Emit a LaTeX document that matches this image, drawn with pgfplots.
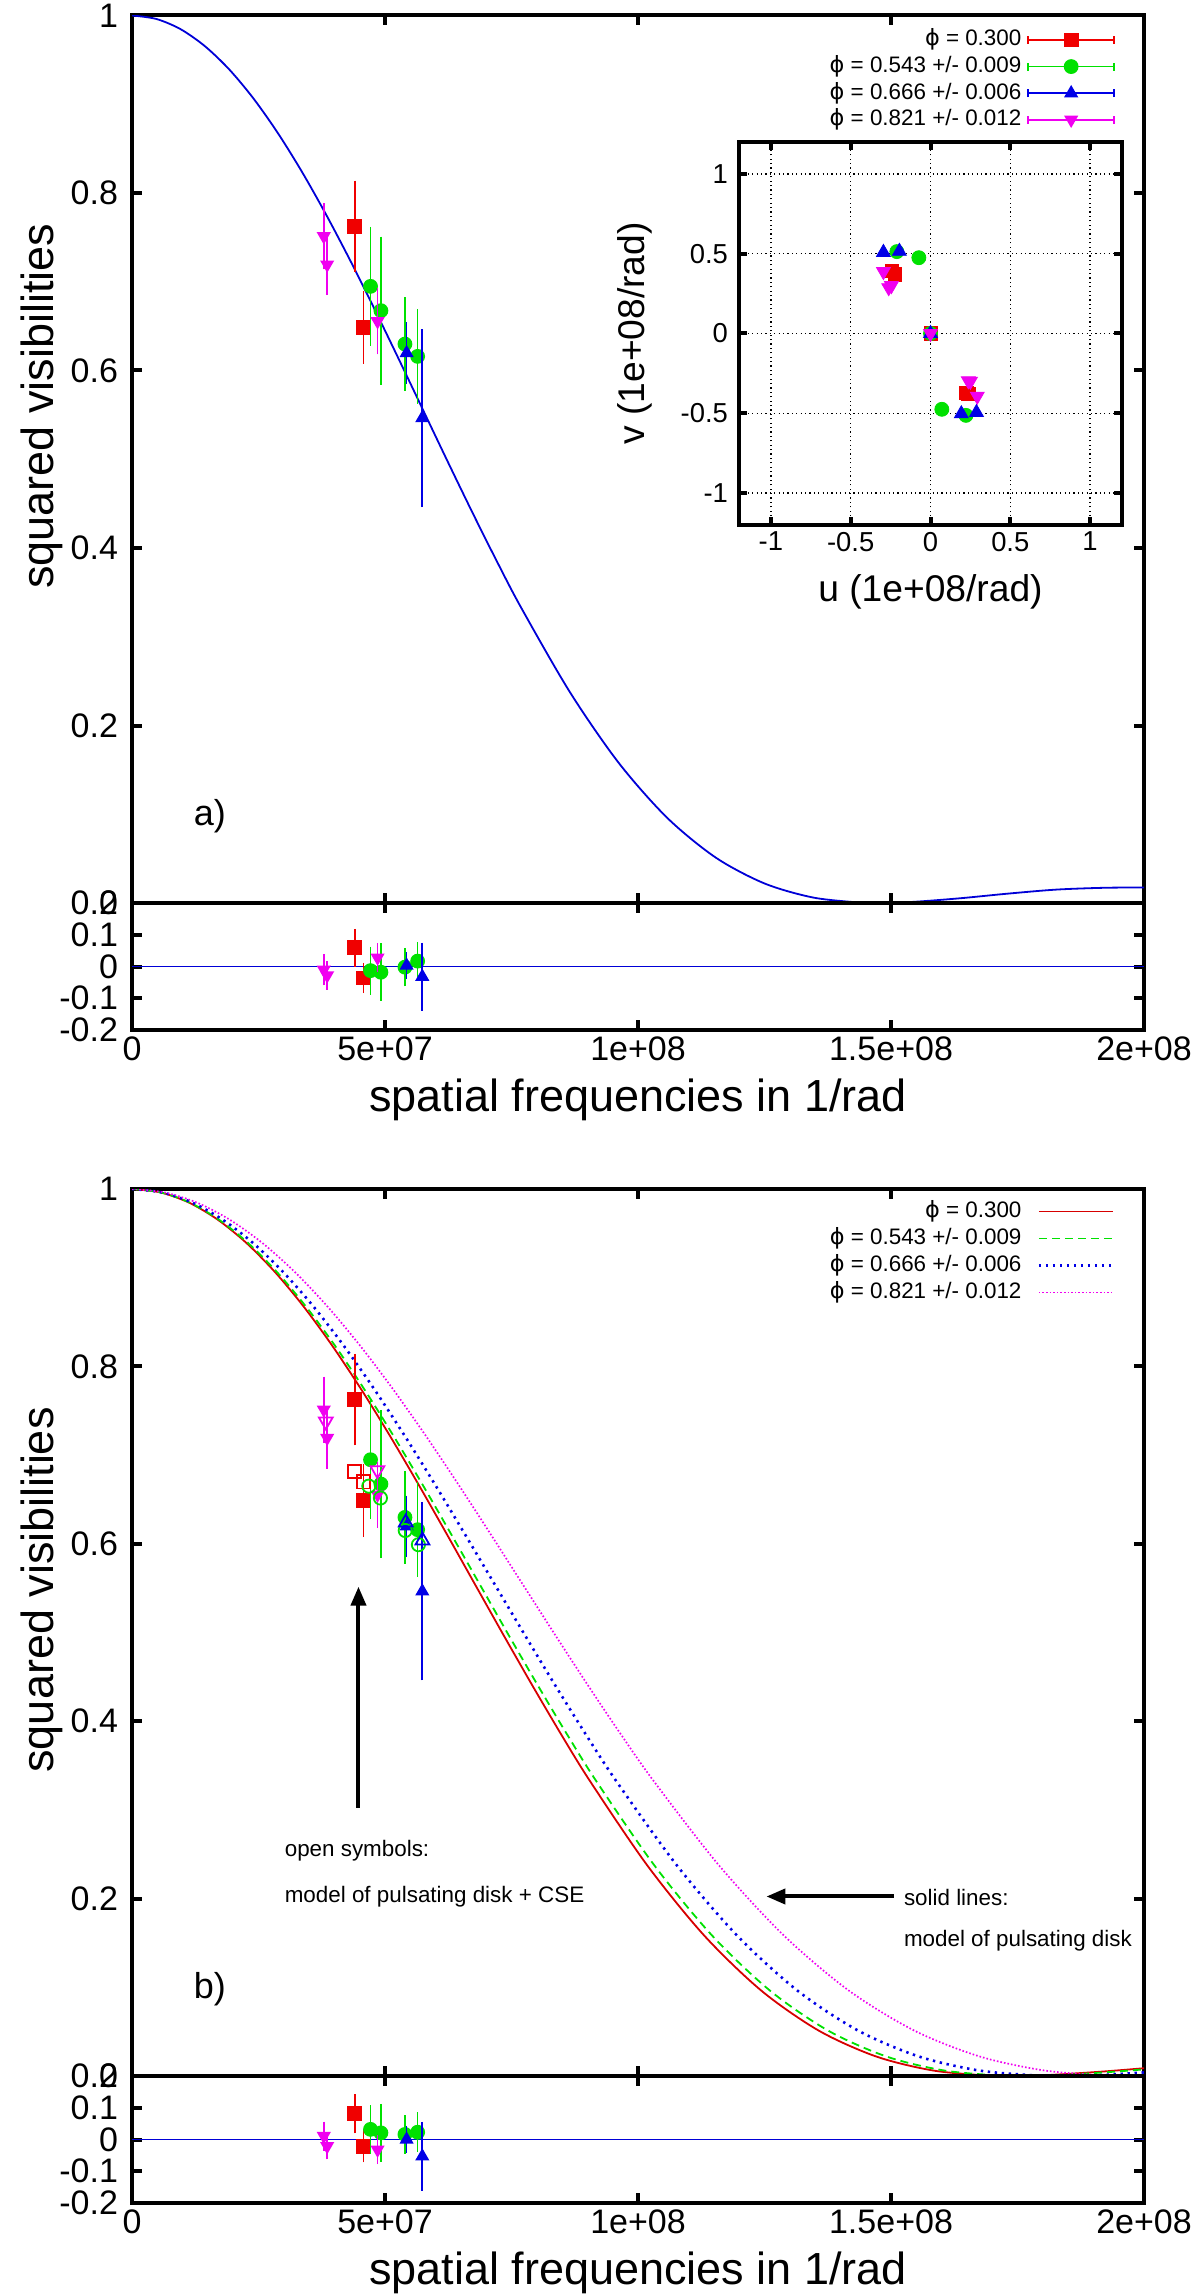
\documentclass[border=0pt]{standalone}
\usepackage{fontspec}
\setmainfont{Liberation Sans}
\newfontfamily\dejavu{DejaVu Sans}
\usepackage{pgfplots}
\pgfplotsset{compat=1.18}
\usepackage{pgfplotstable}
\usetikzlibrary{arrows.meta}

\definecolor{gpred}{RGB}{240,0,0}
\definecolor{gpgreen}{RGB}{0,225,0}
\definecolor{gpblue}{RGB}{0,0,230}
\definecolor{gpmag}{RGB}{240,0,240}
\definecolor{curveA}{RGB}{0,0,215}
\definecolor{lred}{RGB}{215,0,0}

% measured squared visibilities (x in 1/rad, y, error)
\pgfplotstableread{
x y e
0.4404e8 0.7625 0.047
0.4576e8 0.6486 0.0366
}\rA
\pgfplotstableread{
x y e
0.4714e8 0.6948 0.0625
0.4919e8 0.6674 0.079
0.5394e8 0.6298 0.048
0.5645e8 0.6159 0.049
}\gA
\pgfplotstableread{
x y e
0.5427e8 0.6197 0.030
0.5737e8 0.5464 0.0958
}\bA
\pgfplotstableread{
x y e
0.3790e8 0.7512 0.0327
0.3857e8 0.7193 0.030
0.4853e8 0.6554 0.0327
}\mA
% residuals panel a
\pgfplotstableread{
x y e
0.4404e8 0.059 0.047
0.4576e8 -0.036 0.035
}\rRa
\pgfplotstableread{
x y e
0.4714e8 -0.013 0.063
0.4919e8 -0.018 0.078
0.5394e8 -0.002 0.048
0.5645e8 0.017 0.048
}\gRa
\pgfplotstableread{
x y e
0.5427e8 0.003 0.030
0.5737e8 -0.032 0.095
}\bRa
\pgfplotstableread{
x y e
0.3790e8 -0.010 0.037
0.3857e8 -0.028 0.032
0.4853e8 0.028 0.033
}\mRa
% residuals panel b
\pgfplotstableread{
x y e
0.4404e8 0.081 0.049
0.4576e8 -0.021 0.038
}\rRb
\pgfplotstableread{
x y e
0.4714e8 0.032 0.064
0.4919e8 0.021 0.079
0.5394e8 0.016 0.048
0.5645e8 0.023 0.050
}\gRb
\pgfplotstableread{
x y e
0.5427e8 0.000 0.030
0.5737e8 -0.053 0.096
}\bRb
\pgfplotstableread{
x y e
0.3790e8 0.011 0.033
0.3857e8 -0.021 0.029
0.4853e8 -0.032 0.033
}\mRb
% open symbols (disk + CSE model)
\pgfplotstableread{
x y
0.440e8 0.6817
0.458e8 0.6697
}\rO
\pgfplotstableread{
x y
0.468e8 0.665
0.491e8 0.6516
0.540e8 0.615
0.566e8 0.599
}\gO
\pgfplotstableread{
x y
0.541e8 0.624
0.574e8 0.6037
}\bO
\pgfplotstableread{
x y
0.383e8 0.738
0.485e8 0.683
}\mO
% model curves
\pgfplotstableread{
x y
0 1
0.04808e8 0.99610
0.09615e8 0.98454
0.14423e8 0.96535
0.19231e8 0.93912
0.24038e8 0.90623
0.28846e8 0.86734
0.33654e8 0.82320
0.38462e8 0.77458
0.43269e8 0.72237
0.48077e8 0.66749
0.52885e8 0.61086
0.57692e8 0.55342
0.62500e8 0.49605
0.67308e8 0.43961
0.72115e8 0.38490
0.76923e8 0.33261
0.86538e8 0.23764
0.96154e8 0.15814
1.05769e8 0.09598
1.15385e8 0.05109
1.25e8 0.02203
1.34615e8 0.00616
1.44231e8 0.00031
1.47385e8 0
1.53846e8 0.00109
1.63462e8 0.00524
1.73077e8 0.01055
1.82692e8 0.01511
1.92308e8 0.01717
2.0e8 0.01743
}\curA
\pgfplotstableread{
x y
0 1
0.05656e8 0.99610
0.1131e8 0.98454
0.16968e8 0.96535
0.2262e8 0.93912
0.28281e8 0.90623
0.3394e8 0.86734
0.39593e8 0.82320
0.4525e8 0.77458
0.50905e8 0.72237
0.5656e8 0.66749
0.62217e8 0.61086
0.6787e8 0.55342
0.73529e8 0.49605
0.7919e8 0.43961
0.84842e8 0.38490
0.9050e8 0.33261
1.0181e8 0.23764
1.1312e8 0.15814
1.2443e8 0.09598
1.3575e8 0.05109
1.4706e8 0.02203
1.5837e8 0.00616
1.6968e8 0.00031
1.7339e8 0
1.8100e8 0.00109
1.9231e8 0.00524
2.0362e8 0.01055
}\curR
\pgfplotstableread{
x y
0 1
0.05734e8 0.99610
0.1147e8 0.98454
0.17202e8 0.96535
0.2294e8 0.93912
0.28670e8 0.90623
0.3440e8 0.86734
0.40138e8 0.82320
0.4587e8 0.77458
0.51606e8 0.72237
0.5734e8 0.66749
0.63073e8 0.61086
0.6881e8 0.55342
0.74541e8 0.49605
0.8028e8 0.43961
0.86009e8 0.38490
0.9174e8 0.33261
1.0321e8 0.23764
1.1468e8 0.15814
1.2615e8 0.09598
1.3761e8 0.05109
1.4908e8 0.02203
1.6055e8 0.00616
1.7202e8 0.00031
1.7578e8 0
1.8349e8 0.00109
1.9495e8 0.00524
2.0642e8 0.01055
}\curG
\pgfplotstableread{
x y
0 1
0.05981e8 0.99610
0.1196e8 0.98454
0.17943e8 0.96535
0.2392e8 0.93912
0.29904e8 0.90623
0.3589e8 0.86734
0.41866e8 0.82320
0.4785e8 0.77458
0.53828e8 0.72237
0.5981e8 0.66749
0.65789e8 0.61086
0.7177e8 0.55342
0.77751e8 0.49605
0.8373e8 0.43961
0.89713e8 0.38490
0.9569e8 0.33261
1.0766e8 0.23764
1.1962e8 0.15814
1.3158e8 0.09598
1.4354e8 0.05109
1.5550e8 0.02203
1.6746e8 0.00616
1.7943e8 0.00031
1.8335e8 0
1.9139e8 0.00109
2.0335e8 0.00524
}\curB
\pgfplotstableread{
x y
0 1
0.06443e8 0.99610
0.1289e8 0.98454
0.19330e8 0.96535
0.2577e8 0.93912
0.32216e8 0.90623
0.3866e8 0.86734
0.45103e8 0.82320
0.5155e8 0.77458
0.57990e8 0.72237
0.6443e8 0.66749
0.70876e8 0.61086
0.7732e8 0.55342
0.83763e8 0.49605
0.9021e8 0.43961
0.96649e8 0.38490
1.0309e8 0.33261
1.1598e8 0.23764
1.2887e8 0.15814
1.4175e8 0.09598
1.5464e8 0.05109
1.6753e8 0.02203
1.8041e8 0.00616
1.9330e8 0.00031
1.9753e8 0
2.0619e8 0.00109
}\curM
% uv coverage (1e+08/rad)
\pgfplotstableread{
u v
-0.24 0.39
-0.225 0.37
0.237 -0.381
0.225 -0.37
0 0
}\rUV
\pgfplotstableread{
u v
-0.211 0.513
-0.073 0.475
0.071 -0.475
0.222 -0.513
0 0
}\gUV
\pgfplotstableread{
u v
-0.295 0.508
-0.195 0.515
0.193 -0.503
0.288 -0.495
0 0
}\bUV
\pgfplotstableread{
u v
-0.295 0.388
-0.262 0.287
-0.245 0.30
0.237 -0.297
0.293 -0.393
0.25 -0.30
0 0
}\mUV

\tikzset{bigfont/.style={font=\fontsize{22.5}{26}\selectfont}}
\pgfplotsset{
  base/.style={scale only axis, width=506pt, xmin=0, xmax=2e8,
    scaled x ticks=false, scaled y ticks=false,
    axis line style={line width=2pt}, every tick/.style={line width=2pt,black},
    major tick length=5pt, tick align=inside,
    xtick={0,5e7,1e8,1.5e8,2e8},
    tick label style={font=\fontsize{17}{20}\selectfont},
    yticklabel style={xshift=-3.5pt},
    clip mode=individual},
  dat/.style={only marks, mark size=3.3pt, line width=0.8pt,
    error bars/y dir=both, error bars/y explicit,
    error bars/error bar style={line width=0.8pt},
    error bars/error mark options={line width=0.8pt, mark size=2pt}},
  opn/.style={only marks, mark size=3.3pt, line width=0.9pt},
}
\newcommand{\phisym}{{\dejavu ϕ}}

\begin{document}
\begin{tikzpicture}
\useasboundingbox (0,0) rectangle (600pt,-1147pt);

% ---------- panel a main ----------
\begin{axis}[base, at={(66pt,-7.75pt)}, anchor=north west, height=443.75pt,
  ymin=0, ymax=1, ytick={0,0.2,0.4,0.6,0.8,1}, yticklabels={0,0.2,0.4,0.6,0.8,1},
  xticklabels={},
  ylabel={squared visibilities},
  ylabel style={bigfont, at={(axis description cs:-0.089,0.56)}, anchor=center},
  legend style={draw=none, fill=none, at={(0.9713,0.9848)}, anchor=north east,
    inner sep=0pt, outer sep=0pt, font=\fontsize{11.2}{13}\selectfont,
    row sep=2.3pt, column sep=3pt,
    nodes={inner sep=0pt, text height=8.5pt, text depth=2.5pt}},
  legend cell align=right, legend plot pos=right,
  legend image code/.code={
    \draw[#1, line width=0.8pt, solid] (0pt,0pt) -- (43pt,0pt) (0pt,-2pt) -- (0pt,2pt) (43pt,-2pt) -- (43pt,2pt);
    \draw[#1] plot coordinates {(21.5pt,0pt)};
  }]
\addplot[curveA, line width=0.9pt, smooth, forget plot] table[x=x,y=y] {\curA};
\addplot[gpred, mark=square*, dat] table[x=x,y=y,y error=e] {\rA};
\addlegendentry{\phisym\ = 0.300}
\addplot[gpgreen, mark=*, dat] table[x=x,y=y,y error=e] {\gA};
\addlegendentry{\phisym\ = 0.543 +/- 0.009}
\addplot[gpblue, mark=triangle*, mark size=4pt, dat] table[x=x,y=y,y error=e] {\bA};
\addlegendentry{\phisym\ = 0.666 +/- 0.006}
\addplot[gpmag, mark=triangle*, mark size=4pt, mark options={rotate=180}, dat] table[x=x,y=y,y error=e] {\mA};
\addlegendentry{\phisym\ = 0.821 +/- 0.012}
\node[font=\fontsize{18}{20}\selectfont] at (rel axis cs:0.077,0.098) {a)};
\end{axis}

% ---------- panel a residuals ----------
\begin{axis}[base, at={(66pt,-451.5pt)}, anchor=north west, height=63.5pt,
  ymin=-0.2, ymax=0.2, ytick={-0.2,-0.1,0,0.1,0.2}, yticklabels={-0.2,-0.1,0,0.1,0.2},
  xticklabels={0,5e+07,1e+08,1.5e+08,2e+08},
  xlabel={spatial frequencies in 1/rad},
  xlabel style={bigfont, at={(axis description cs:0.5,0)}, anchor=base, yshift=-40.5pt}]
\addplot[curveA, line width=0.9pt] coordinates {(0,0) (2e8,0)};
\addplot[gpred, mark=square*, dat] table[x=x,y=y,y error=e] {\rRa};
\addplot[gpgreen, mark=*, dat] table[x=x,y=y,y error=e] {\gRa};
\addplot[gpblue, mark=triangle*, mark size=4pt, dat] table[x=x,y=y,y error=e] {\bRa};
\addplot[gpmag, mark=triangle*, mark size=4pt, mark options={rotate=180}, dat] table[x=x,y=y,y error=e] {\mRa};
\end{axis}

% ---------- inset uv plane ----------
\begin{axis}[at={(369.5pt,-71pt)}, anchor=north west, scale only axis,
  width=191.5pt, height=191.5pt,
  xmin=-1.2, xmax=1.2, ymin=-1.2, ymax=1.2,
  xtick={-1,-0.5,0,0.5,1}, xticklabels={-1,-0.5,0,0.5,1},
  ytick={-1,-0.5,0,0.5,1}, yticklabels={-1,-0.5,0,0.5,1},
  grid=major, major grid style={black, line width=0.6pt, dash pattern=on 0.6pt off 1.6pt},
  axis line style={line width=2pt}, every tick/.style={line width=2pt,black},
  major tick length=4pt, tick align=inside,
  tick label style={font=\fontsize{13.7}{16}\selectfont},
  yticklabel style={xshift=-2pt},
  axis background/.style={fill=white},
  xlabel={u (1e+08/rad)}, ylabel={v (1e+08/rad)},
  xlabel style={font=\fontsize{18.6}{22}\selectfont, at={(axis description cs:0.5,-0.175)}, anchor=center},
  ylabel style={font=\fontsize{18.6}{22}\selectfont, at={(axis description cs:-0.2715,0.5)}, anchor=center}]
\addplot[gpred, mark=square*, only marks, mark size=3.3pt] table[x=u,y=v] {\rUV};
\addplot[gpgreen, mark=*, only marks, mark size=3.5pt] table[x=u,y=v] {\gUV};
\addplot[gpblue, mark=triangle*, only marks, mark size=4pt] table[x=u,y=v] {\bUV};
\addplot[gpmag, mark=triangle*, only marks, mark size=4pt, mark options={rotate=180}] table[x=u,y=v] {\mUV};
\end{axis}

% ---------- panel b main ----------
\begin{axis}[base, at={(66pt,-594.5pt)}, anchor=north west, height=443.5pt,
  ymin=0, ymax=1, ytick={0,0.2,0.4,0.6,0.8,1}, yticklabels={0,0.2,0.4,0.6,0.8,1},
  xticklabels={},
  ylabel={squared visibilities},
  ylabel style={bigfont, at={(axis description cs:-0.089,0.548)}, anchor=center},
  legend style={draw=none, fill=none, at={(0.9704,0.987)}, anchor=north east,
    inner sep=0pt, outer sep=0pt, font=\fontsize{11.2}{13}\selectfont,
    row sep=2.5pt, column sep=8pt,
    nodes={inner sep=0pt, text height=8.5pt, text depth=2.5pt}},
  legend cell align=right, legend plot pos=right,
  legend image code/.code={\draw[#1] (0pt,0pt) -- (37pt,0pt);}]
\addplot[lred, line width=0.9pt, smooth] table[x=x,y=y] {\curR};
\addlegendentry{\phisym\ = 0.300}
\addplot[gpgreen, line width=0.9pt, smooth, dash pattern=on 4pt off 2.5pt] table[x=x,y=y] {\curG};
\addlegendentry{\phisym\ = 0.543 +/- 0.009}
\addplot[gpblue, line width=1.3pt, smooth, dash pattern=on 1.2pt off 2.3pt] table[x=x,y=y] {\curB};
\addlegendentry{\phisym\ = 0.666 +/- 0.006}
\addplot[gpmag, line width=0.85pt, smooth, dash pattern=on 0.8pt off 1pt] table[x=x,y=y] {\curM};
\addlegendentry{\phisym\ = 0.821 +/- 0.012}
\addplot[forget plot, gpred, mark=square*, dat] table[x=x,y=y,y error=e] {\rA};
\addplot[forget plot, gpgreen, mark=*, dat] table[x=x,y=y,y error=e] {\gA};
\addplot[forget plot, gpblue, mark=triangle*, mark size=4pt, dat] table[x=x,y=y,y error=e] {\bA};
\addplot[forget plot, gpmag, mark=triangle*, mark size=4pt, mark options={rotate=180}, dat] table[x=x,y=y,y error=e] {\mA};
\addplot[forget plot, gpred, mark=square, opn] table[x=x,y=y] {\rO};
\addplot[forget plot, gpgreen, mark=o, opn] table[x=x,y=y] {\gO};
\addplot[forget plot, gpblue, mark=triangle, opn, mark size=4pt] table[x=x,y=y] {\bO};
\addplot[forget plot, gpmag, mark=triangle, opn, mark size=4pt, mark options={rotate=180}] table[x=x,y=y] {\mO};
\draw[-{Triangle[length=9.5pt,width=7.5pt]}, line width=2pt] (axis cs:0.4476e8,0.3026) -- (axis cs:0.4476e8,0.5517);
\draw[-{Triangle[length=9.5pt,width=7.5pt]}, line width=2pt] (axis cs:1.5053e8,0.2024) -- (axis cs:1.2538e8,0.2024);
\node[anchor=west, font=\fontsize{11.2}{13}\selectfont, inner sep=0pt] at (axis cs:0.3012e8,0.2537) {open symbols:};
\node[anchor=west, font=\fontsize{11.2}{13}\selectfont, inner sep=0pt] at (axis cs:0.3012e8,0.2018) {model of pulsating disk + CSE};
\node[anchor=west, font=\fontsize{11.2}{13}\selectfont, inner sep=0pt] at (axis cs:1.5249e8,0.2018) {solid lines:};
\node[anchor=west, font=\fontsize{11.2}{13}\selectfont, inner sep=0pt] at (axis cs:1.5249e8,0.1525) {model of pulsating disk};
\node[font=\fontsize{18}{20}\selectfont] at (rel axis cs:0.077,0.098) {b)};
\end{axis}

% ---------- panel b residuals ----------
\begin{axis}[base, at={(66pt,-1038pt)}, anchor=north west, height=63.5pt,
  ymin=-0.2, ymax=0.2, ytick={-0.2,-0.1,0,0.1,0.2}, yticklabels={-0.2,-0.1,0,0.1,0.2},
  xticklabels={0,5e+07,1e+08,1.5e+08,2e+08},
  xlabel={spatial frequencies in 1/rad},
  xlabel style={bigfont, at={(axis description cs:0.5,0)}, anchor=base, yshift=-40.5pt}]
\addplot[curveA, line width=0.9pt] coordinates {(0,0) (2e8,0)};
\addplot[gpred, mark=square*, dat] table[x=x,y=y,y error=e] {\rRb};
\addplot[gpgreen, mark=*, dat] table[x=x,y=y,y error=e] {\gRb};
\addplot[gpblue, mark=triangle*, mark size=4pt, dat] table[x=x,y=y,y error=e] {\bRb};
\addplot[gpmag, mark=triangle*, mark size=4pt, mark options={rotate=180}, dat] table[x=x,y=y,y error=e] {\mRb};
\end{axis}
\end{tikzpicture}
\end{document}
